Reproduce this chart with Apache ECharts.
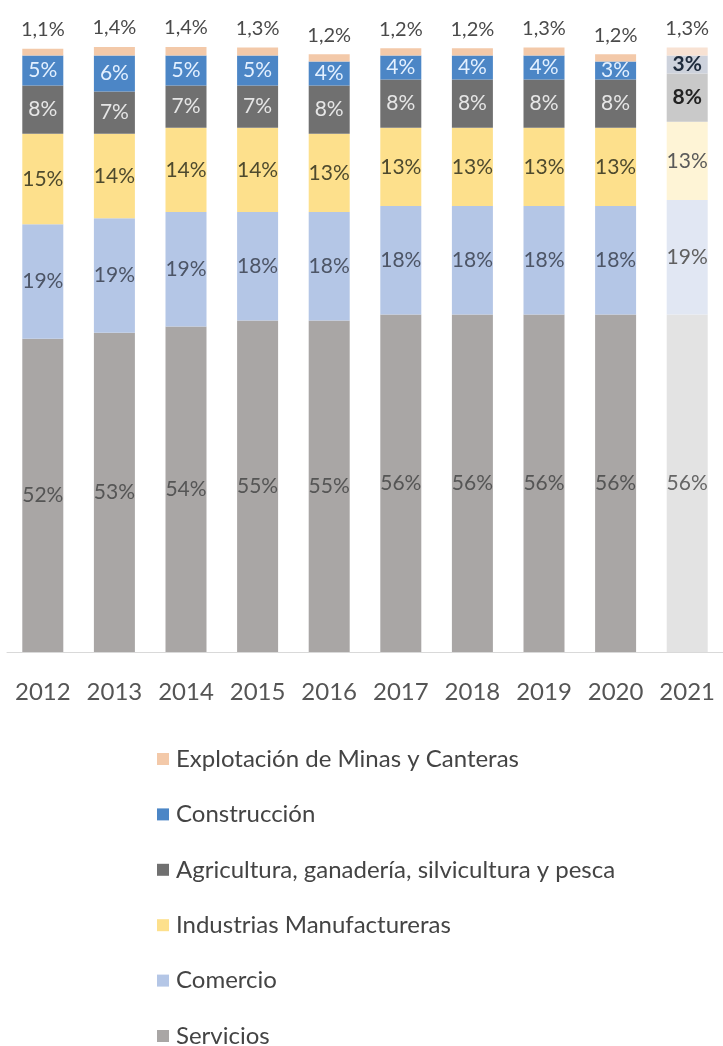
<!DOCTYPE html>
<html>
<head>
<meta charset="utf-8">
<style>
  html, body { margin: 0; padding: 0; background: #ffffff; }
  #chart { width: 723px; height: 1046px; }
</style>
<script src="https://cdn.jsdelivr.net/npm/echarts@6/dist/echarts.min.js"></script>
</head>
<body>
<div id="chart"></div>
<script>
// Participación sectorial por año (%)
const years = ['2012', '2013', '2014', '2015', '2016', '2017', '2018', '2019', '2020', '2021'];
const servicios    = [52, 53, 54, 55, 55, 56, 56, 56, 56, 56];
const comercio     = [19, 19, 19, 18, 18, 18, 18, 18, 18, 19];
const industrias   = [15, 14, 14, 14, 13, 13, 13, 13, 13, 13];
const agricultura  = [8, 7, 7, 7, 8, 8, 8, 8, 8, 8];
const construccion = [5, 6, 5, 5, 4, 4, 4, 4, 3, 3];
const minas        = [1.1, 1.4, 1.4, 1.3, 1.2, 1.2, 1.2, 1.3, 1.2, 1.3];

const FONT = 'Lato, "Open Sans", sans-serif';

// Each sector: full colour for observed years, faded colour for the last (projected) year
const sectors = [
  { name: 'Servicios', data: servicios, color: '#a9a6a5', last: '#e3e3e3', text: '#555555', lastText: '#666666' },
  { name: 'Comercio', data: comercio, color: '#b4c6e6', last: '#e1e7f3', text: '#4d5566', lastText: '#606060' },
  { name: 'Industrias Manufactureras', data: industrias, color: '#fde08c', last: '#fef4d6', text: '#4e4a2e', lastText: '#5a5a5a' },
  { name: 'Agricultura, ganadería, silvicultura y pesca', data: agricultura, color: '#707070', last: '#c9c9c9', text: '#e6e6e6', lastText: '#222222' },
  { name: 'Construcción', data: construccion, color: '#4c86c6', last: '#cdd2dc', text: '#e3f0ff', lastText: '#1e2b3c' },
  { name: 'Explotación de Minas y Canteras', data: minas, color: '#f3c9a9', last: '#f8e2d3', text: '#4a4a4a', lastText: '#4a4a4a', top: true }
];

const series = sectors.map(s => ({
  name: s.name,
  type: 'bar',
  stack: 'total',
  barWidth: 41,
  itemStyle: { color: s.color },
  data: s.data.map((v, i) => {
    const isLast = i === years.length - 1;
    const item = { value: v, itemStyle: { color: isLast ? s.last : s.color } };
    item.label = { color: isLast ? s.lastText : s.text };
    if (isLast && (s.name === 'Construcción' || s.name === 'Agricultura, ganadería, silvicultura y pesca')) {
      item.label.fontWeight = 'bold';
    }
    return item;
  }),
  label: {
    show: true,
    position: s.top ? 'top' : 'inside',
    distance: s.top ? 9 : 5,
    fontFamily: FONT,
    fontSize: s.top ? 20 : 21,
    formatter: p => s.top ? String(p.value).replace('.', ',') + '%' : p.value + '%'
  }
}));

const legendOrder = [
  'Explotación de Minas y Canteras',
  'Construcción',
  'Agricultura, ganadería, silvicultura y pesca',
  'Industrias Manufactureras',
  'Comercio',
  'Servicios'
];

const chart = echarts.init(document.getElementById('chart'));
chart.setOption({
  animation: false,
  backgroundColor: '#ffffff',
  grid: { left: 7, right: -9, top: 47, bottom: 394, containLabel: false },
  xAxis: {
    type: 'category',
    data: years,
    axisLine: { lineStyle: { color: '#d9d9d9', width: 1 } },
    axisTick: { show: false },
    axisLabel: { interval: 0, color: '#555555', fontFamily: FONT, fontSize: 24, margin: 28 }
  },
  yAxis: {
    type: 'value',
    min: 0,
    max: 100.4,
    show: false,
    splitLine: { show: false }
  },
  legend: {
    orient: 'vertical',
    left: 157,
    top: 747,
    width: 560,
    height: 400,
    padding: 0,
    itemGap: 31.4,
    itemWidth: 12,
    itemHeight: 12,
    icon: 'rect',
    data: legendOrder,
    textStyle: { color: '#444444', fontFamily: FONT, fontSize: 24, padding: [0, 0, 0, 2] }
  },
  series: series
});
</script>
</body>
</html>
